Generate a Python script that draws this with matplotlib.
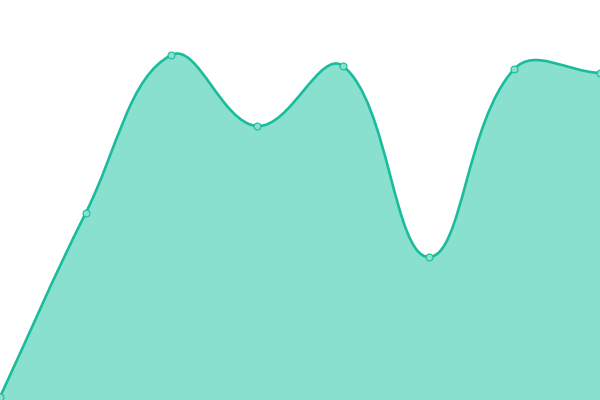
import matplotlib
matplotlib.use('Agg')
import matplotlib.pyplot as plt
import numpy as np
from matplotlib.path import Path
from matplotlib.patches import PathPatch

# data (one value per point, y axis 0..400)
labels = ['A', 'B', 'C', 'D', 'E', 'F', 'G', 'H']
values = [3, 187, 345, 274, 334, 143, 331, 327]

line_color = '#1ABC9C'
fill_color = '#89E0CF'
tension = 0.4

fig = plt.figure(figsize=(6, 4), dpi=100)
ax = fig.add_axes([0, 0, 1, 1])
ax.set_xlim(0, len(values) - 1)
ax.set_ylim(0, 400)
ax.axis('off')

# points in display space so the smoothing works like a canvas spline
x = np.arange(len(values))
pts = ax.transData.transform(np.column_stack([x, values]))
n = len(pts)

ctrl_prev = []
ctrl_next = []
for i in range(n):
    prev = pts[i - 1] if i > 0 else pts[i]
    cur = pts[i]
    nxt = pts[i + 1] if i < n - 1 else pts[i]
    d01 = np.hypot(*(cur - prev))
    d12 = np.hypot(*(nxt - cur))
    tot = d01 + d12
    s01 = d01 / tot if tot else 0
    s12 = d12 / tot if tot else 0
    ctrl_prev.append(cur - tension * s01 * (nxt - prev))
    ctrl_next.append(cur + tension * s12 * (nxt - prev))

verts = [pts[0]]
codes = [Path.MOVETO]
for i in range(n - 1):
    verts += [ctrl_next[i], ctrl_prev[i + 1], pts[i + 1]]
    codes += [Path.CURVE4] * 3

inv = ax.transData.inverted()
line_verts = inv.transform(np.array(verts))

# filled area under the curve
base = ax.transData.transform([[x[-1], 0], [x[0], 0]])
fill_verts = np.vstack([line_verts, inv.transform(base), line_verts[:1]])
fill_codes = codes + [Path.LINETO, Path.LINETO, Path.CLOSEPOLY]
ax.add_patch(PathPatch(Path(fill_verts, fill_codes), facecolor=fill_color,
                       edgecolor='none', zorder=1))

# the line itself
ax.add_patch(PathPatch(Path(line_verts, codes), facecolor='none',
                       edgecolor=line_color, linewidth=1.9, zorder=2,
                       clip_on=False))

# point markers
ax.plot(x, values, 'o', markersize=5, markerfacecolor=fill_color,
        markeredgecolor=line_color, markeredgewidth=0.8, zorder=3,
        clip_on=False)

fig.savefig('out.png', dpi=100)
